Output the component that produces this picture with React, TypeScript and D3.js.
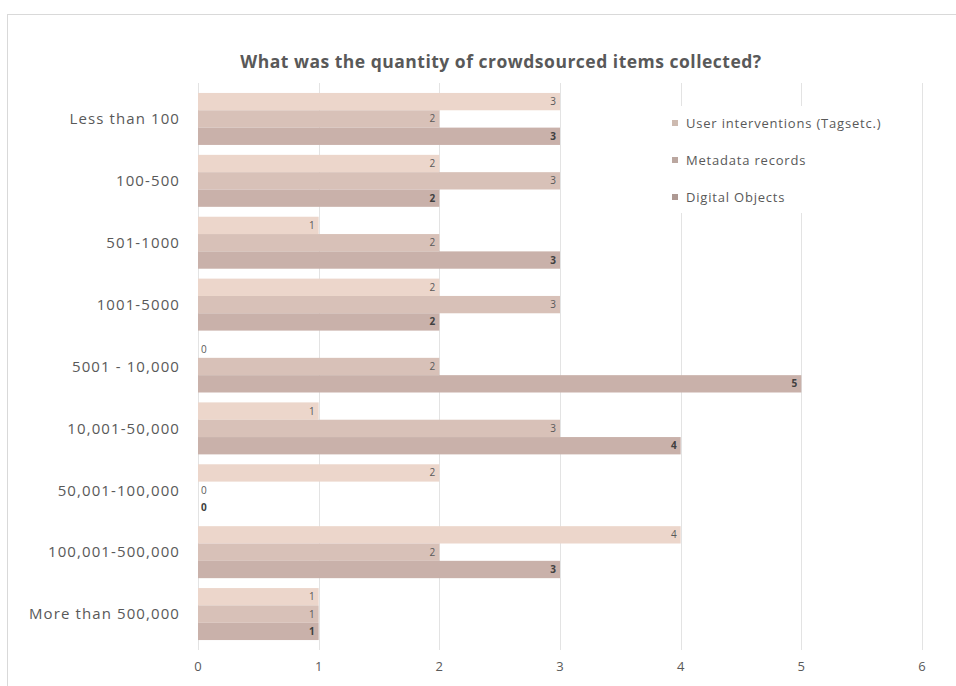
import React, { useEffect, useRef } from 'react';
import * as d3 from 'd3';

const categories = [
  'Less than 100',
  '100-500',
  '501-1000',
  '1001-5000',
  '5001 - 10,000',
  '10,001-50,000',
  '50,001-100,000',
  '100,001-500,000',
  'More than 500,000',
];

const seriesNames = ['User interventions (Tagsetc.)', 'Metadata records', 'Digital Objects'];

const userInterventions = [3, 2, 1, 2, 0, 1, 2, 4, 1];
const metadataRecords = [2, 3, 2, 3, 2, 3, 0, 2, 1];
const digitalObjects = [3, 2, 3, 2, 5, 4, 0, 3, 1];

const xTicks = [0, 1, 2, 3, 4, 5, 6];

const colors = ['#ecd6cb', '#d8c1b8', '#c9b1aa'];

const App: React.FC = () => {
  const svgRef = useRef<SVGSVGElement>(null);

  useEffect(() => {
    if (!svgRef.current) return;
    const width = 956;
    const height = 686;
    const svg = d3.select(svgRef.current);
    svg.selectAll('*').remove();

    const font = "'Open Sans', 'DejaVu Sans', sans-serif";
    const textColor = '#595959';

    // chart frame
    svg.append('rect').attr('width', width).attr('height', height).attr('fill', '#fff');
    svg.append('line').attr('x1', 7).attr('x2', width).attr('y1', 14.5).attr('y2', 14.5)
      .attr('stroke', '#d9d9d9');
    svg.append('line').attr('x1', 7.5).attr('x2', 7.5).attr('y1', 14).attr('y2', height)
      .attr('stroke', '#d9d9d9');

    const x = d3.scaleLinear().domain([0, 6]).range([198, 922]);
    const y = d3.scaleBand<string>().domain(categories).range([88, 645])
      .paddingInner(0.16).paddingOuter(0.08);
    const ySub = d3.scaleBand<number>().domain([0, 1, 2]).range([0, y.bandwidth()]);

    // gridlines
    svg.append('g').selectAll('line').data(xTicks).enter().append('line')
      .attr('x1', d => Math.round(x(d)) + 0.5).attr('x2', d => Math.round(x(d)) + 0.5)
      .attr('y1', 83).attr('y2', 650)
      .attr('stroke', '#e3e3e3').attr('stroke-width', 1);

    // tick labels
    svg.append('g').selectAll('text').data(xTicks).enter().append('text')
      .attr('x', d => x(d)).attr('y', 671)
      .attr('text-anchor', 'middle')
      .attr('font-family', font).attr('font-size', 13).attr('fill', textColor)
      .text(d => d);

    // category labels
    svg.append('g').selectAll('text').data(categories).enter().append('text')
      .attr('x', 180).attr('y', d => (y(d) as number) + y.bandwidth() / 2)
      .attr('dy', '0.35em')
      .attr('text-anchor', 'end')
      .attr('font-family', font).attr('font-size', 15).attr('letter-spacing', 1.1)
      .attr('fill', textColor)
      .text(d => d);

    const series = [userInterventions, metadataRecords, digitalObjects];

    series.forEach((vals, si) => {
      const g = svg.append('g');
      const rows = vals.map((v, i) => ({ cat: categories[i], v }));
      g.selectAll('rect').data(rows).enter().append('rect')
        .attr('x', x(0))
        .attr('y', d => (y(d.cat) as number) + (ySub(si) as number))
        .attr('width', d => x(d.v) - x(0))
        .attr('height', ySub.bandwidth())
        .attr('fill', colors[si]);
      g.selectAll('text').data(rows).enter().append('text')
        .attr('x', d => (d.v === 0 ? x(0) + 3 : x(d.v) - 4))
        .attr('y', d => (y(d.cat) as number) + (ySub(si) as number) + ySub.bandwidth() / 2)
        .attr('dy', '0.35em')
        .attr('text-anchor', d => (d.v === 0 ? 'start' : 'end'))
        .attr('font-family', font).attr('font-size', 10)
        .attr('font-weight', si === 2 ? 'bold' : 'normal')
        .attr('fill', si === 2 ? '#404040' : '#595959')
        .text(d => d.v);
    });

    // legend
    const lg = svg.append('g');
    lg.append('rect').attr('x', 662).attr('y', 106).attr('width', 240).attr('height', 107).attr('fill', '#fff');
    seriesNames.forEach((name, i) => {
      const ly = 123 + i * 37;
      lg.append('rect').attr('x', 672).attr('y', ly - 3).attr('width', 6).attr('height', 6)
        .attr('fill', d3.color(colors[i])!.darker(0.4).toString());
      lg.append('text').attr('x', 686).attr('y', ly).attr('dy', '0.35em')
        .attr('font-family', font).attr('font-size', 13).attr('letter-spacing', 0.8)
        .attr('fill', textColor)
        .text(name);
    });

    // title
    svg.append('text').attr('x', 501).attr('y', 68)
      .attr('text-anchor', 'middle')
      .attr('font-family', font).attr('font-size', 17.5).attr('font-weight', 'bold')
      .attr('letter-spacing', 0.5)
      .attr('fill', textColor)
      .text('What was the quantity of crowdsourced items collected?');
  }, []);

  return (
    <svg
      ref={svgRef}
      width={956}
      height={686}
      style={{ position: 'absolute', left: 0, top: 0, display: 'block' }}
    />
  );
};

export default App;
